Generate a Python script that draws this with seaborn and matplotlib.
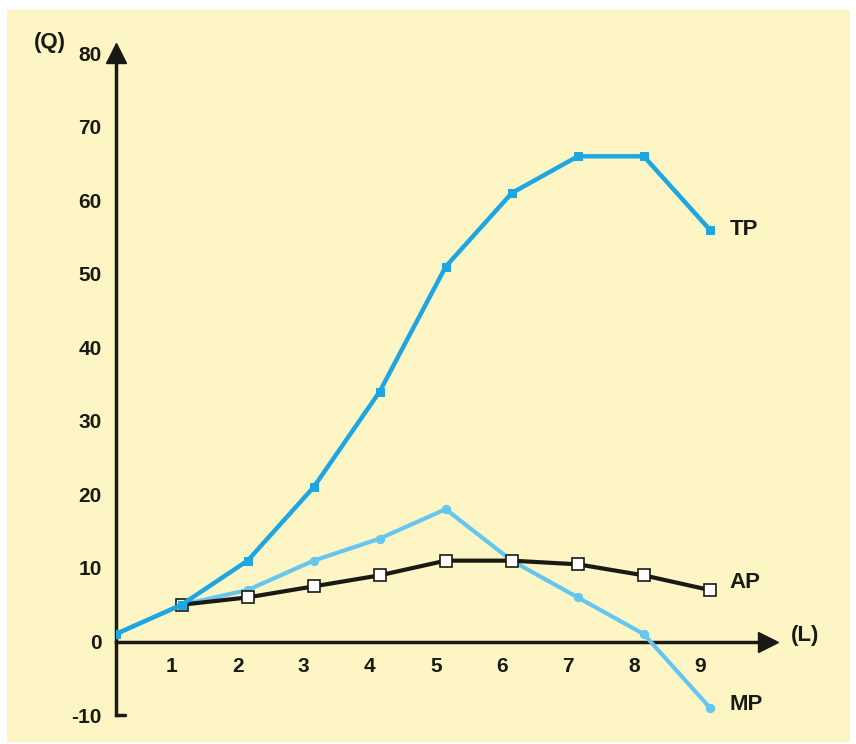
import matplotlib
matplotlib.use("Agg")
import matplotlib.pyplot as plt
import seaborn as sns
import pandas as pd
from matplotlib.patches import Rectangle

# data
labour = [0, 1, 2, 3, 4, 5, 6, 7, 8, 9]
tp = [1, 5, 11, 21, 34, 51, 61, 66, 66, 56]
mp = [1, 5, 7, 11, 14, 18, 11, 6, 1, -9]
ap_labour = [1, 2, 3, 4, 5, 6, 7, 8, 9]
ap = [5, 6, 7.5, 9, 11, 11, 10.5, 9, 7]
y_ticks = [-10, 0, 10, 20, 30, 40, 50, 60, 70, 80]
x_ticks = [1, 2, 3, 4, 5, 6, 7, 8, 9]

cream = "#fdf6c4"
tp_blue = "#1ea6e2"
mp_blue = "#66c6f0"
ink = "#1a1a14"

sns.set_style("white")
plt.rcParams["font.family"] = ["Liberation Sans", "DejaVu Sans"]

fig = plt.figure(figsize=(8.56, 7.44), dpi=100)
fig.patch.set_facecolor("white")
fig.patches.append(Rectangle((7 / 856, 2 / 744), 843 / 856, 732 / 744,
                             transform=fig.transFigure, facecolor=cream,
                             edgecolor="none", zorder=-10))
ax = fig.add_axes([0.135, 0.034, 0.81, 0.914])
ax.set_facecolor("none")

df_tp = pd.DataFrame({"L": labour, "Q": tp})
df_mp = pd.DataFrame({"L": labour, "Q": mp})
df_ap = pd.DataFrame({"L": ap_labour, "Q": ap})

sns.lineplot(data=df_mp, x="L", y="Q", ax=ax, color=mp_blue, linewidth=3,
             marker="o", markersize=6, markeredgecolor=mp_blue, zorder=3)
sns.lineplot(data=df_ap, x="L", y="Q", ax=ax, color=ink, linewidth=3,
             marker="s", markersize=9, markerfacecolor="white",
             markeredgecolor=ink, markeredgewidth=1.2, zorder=4)
sns.lineplot(data=df_tp, x="L", y="Q", ax=ax, color=tp_blue, linewidth=3.2,
             marker="s", markersize=6, markeredgecolor=tp_blue, zorder=5)

ax.set_xlim(0, 10.5)
ax.set_ylim(-10.5, 82)

# axes drawn as arrows through the origin
for side in ["top", "right"]:
    ax.spines[side].set_visible(False)
ax.spines["left"].set_position(("data", 0))
ax.spines["bottom"].set_position(("data", 0))
ax.spines["left"].set_bounds(-10, 79.5)
ax.spines["bottom"].set_bounds(0, 9.8)
for side in ["left", "bottom"]:
    ax.spines[side].set_linewidth(2.5)
    ax.spines[side].set_color(ink)
ax.plot(0, 80.0, marker="^", markersize=14, color=ink, clip_on=False, zorder=6)
ax.plot(9.88, 0, marker=">", markersize=14, color=ink, clip_on=False, zorder=6)
ax.plot([0, 0.14], [-10, -10], color=ink, linewidth=2.5, clip_on=False)

ax.set_yticks(y_ticks)
ax.set_yticklabels([str(v) for v in y_ticks], fontsize=15, fontweight="bold",
                   color=ink)
ax.tick_params(axis="y", direction="in", length=8, width=1.5, color=ink, pad=10)
ax.set_xticks([v - 0.15 for v in x_ticks])
ax.set_xticklabels([str(v) for v in x_ticks], fontsize=15, fontweight="bold",
                   color=ink)
ax.tick_params(axis="x", length=0, pad=11)
ax.set_xlabel("")
ax.set_ylabel("")

ax.text(9.3, 56, "TP", fontsize=16, fontweight="bold", va="center", color=ink)
ax.text(9.3, 8.0, "AP", fontsize=16, fontweight="bold", va="center", color=ink)
ax.text(9.3, -8.5, "MP", fontsize=16, fontweight="bold", va="center", color=ink)
ax.text(10.22, 0.8, "(L)", fontsize=16, fontweight="bold", va="center", color=ink)
ax.text(-0.75, 81.5, "(Q)", fontsize=16, fontweight="bold", va="center", ha="right",
        color=ink, clip_on=False)

fig.savefig("out.png", dpi=100)
